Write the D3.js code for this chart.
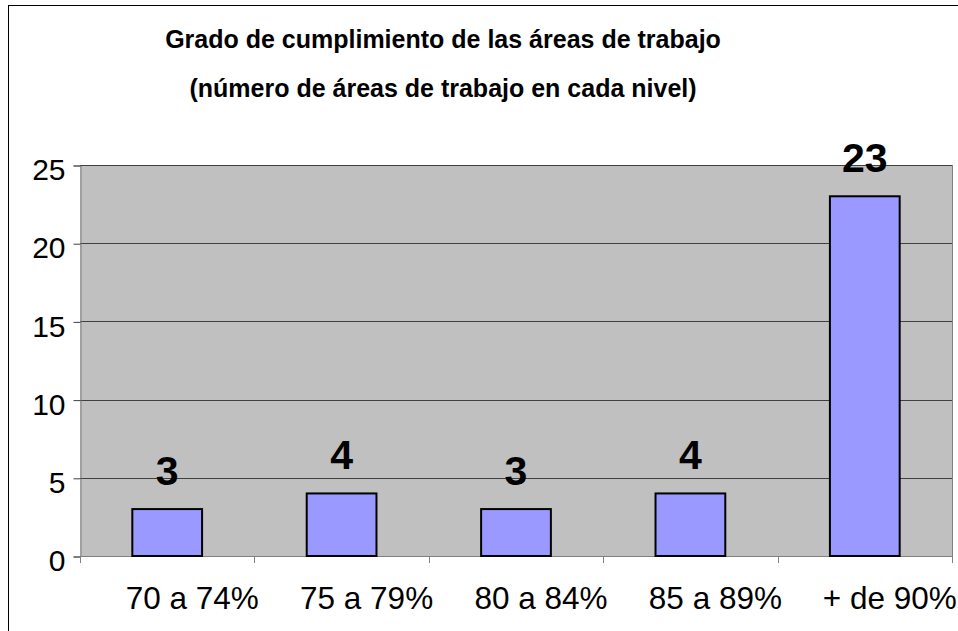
<!DOCTYPE html>
<html>
<head>
<meta charset="utf-8">
<script src="https://cdn.jsdelivr.net/npm/d3@7"></script>
<style>
  body { margin: 0; background: #fff; }
  text { font-family: Arial, "Liberation Sans", sans-serif; }
</style>
</head>
<body>
<svg id="chart" width="958" height="631"></svg>
<script>
// datos
var categorias = ["70 a 74%", "75 a 79%", "80 a 84%", "85 a 89%", "+ de 90%"];
var valores = [3, 4, 3, 4, 23];
var ticksY = [0, 5, 10, 15, 20, 25];
var titulo = ["Grado de cumplimiento de las áreas de trabajo",
              "(número de áreas de trabajo en cada nivel)"];

var svg = d3.select("#chart");

// borde exterior del area del grafico
svg.append("rect")
  .attr("x", 8.5).attr("y", 5.5)
  .attr("width", 1000).attr("height", 1000)
  .style("fill", "#fff")
  .style("stroke", "#000")
  .style("stroke-width", "1px");

var x = d3.scaleBand().domain(categorias).range([80, 952]).padding(0);
var y = d3.scaleLinear().domain([0, 25]).range([556, 165]);

// fondo gris
svg.append("rect")
  .attr("x", 80).attr("y", y(25))
  .attr("width", 952 - 80).attr("height", y(0) - y(25))
  .style("fill", "#c0c0c0");

// lineas de cuadricula
svg.selectAll("line.grid")
  .data(ticksY.filter(function(d){ return d > 0; }))
  .enter().append("line")
  .attr("class", "grid")
  .attr("x1", 80).attr("x2", 952)
  .attr("y1", function(d){ return Math.round(y(d)) + 0.5; })
  .attr("y2", function(d){ return Math.round(y(d)) + 0.5; })
  .style("stroke", "#404040");

// borde derecho del area de trazado
svg.append("line")
  .attr("x1", 952.5).attr("x2", 952.5)
  .attr("y1", y(25)).attr("y2", y(0))
  .style("stroke", "#808080");

// eje Y
var ejeY = svg.append("g")
  .attr("transform", "translate(80.5,0.5)")
  .call(d3.axisLeft(y).tickValues(ticksY).tickSize(7).tickPadding(8).tickFormat(d3.format("d")));
ejeY.select(".domain").style("stroke", "#808080");
ejeY.selectAll(".tick line").style("stroke", "#404040");
ejeY.selectAll(".tick text")
  .style("font-size", "30px")
  .style("fill", "#000")
  .attr("dy", "0.47em");

// eje X
var bordes = categorias.map(function(c){ return x(c); }).concat([952]);
svg.append("line")
  .attr("x1", 80).attr("x2", 952.5)
  .attr("y1", Math.round(y(0)) + 0.5).attr("y2", Math.round(y(0)) + 0.5)
  .style("stroke", "#808080");
svg.selectAll("line.tickx")
  .data(bordes)
  .enter().append("line")
  .attr("class", "tickx")
  .attr("x1", function(d){ return Math.round(d) + 0.5; })
  .attr("x2", function(d){ return Math.round(d) + 0.5; })
  .attr("y1", y(0)).attr("y2", y(0) + 7)
  .style("stroke", "#808080");

// las etiquetas del eje X quedan algo desplazadas a la derecha en el original
svg.selectAll("text.etqx")
  .data(categorias)
  .enter().append("text")
  .attr("class", "etqx")
  .attr("x", function(d){ return x(d) + x.bandwidth() / 2 + 25; })
  .attr("y", 609)
  .attr("text-anchor", "middle")
  .style("font-size", "31.5px")
  .text(function(d){ return d; });

// barras
var anchoBarra = x.bandwidth() * 0.4;
svg.selectAll("rect.barra")
  .data(valores)
  .enter().append("rect")
  .attr("class", "barra")
  .attr("x", function(d, i){ return x(categorias[i]) + (x.bandwidth() - anchoBarra) / 2; })
  .attr("y", function(d){ return y(d); })
  .attr("width", anchoBarra)
  .attr("height", function(d){ return y(0) - y(d); })
  .style("fill", "#9999ff")
  .style("stroke", "#000")
  .style("stroke-width", "2px");

// etiquetas de valor
svg.selectAll("text.valor")
  .data(valores)
  .enter().append("text")
  .attr("class", "valor")
  .attr("x", function(d, i){ return x(categorias[i]) + x.bandwidth() / 2; })
  .attr("y", function(d){ return y(d) - 24; })
  .attr("text-anchor", "middle")
  .style("font-size", "41px")
  .style("font-weight", "bold")
  .text(function(d){ return d; });

// titulo
svg.selectAll("text.titulo")
  .data(titulo)
  .enter().append("text")
  .attr("class", "titulo")
  .attr("x", 443)
  .attr("y", function(d, i){ return 48 + i * 49; })
  .attr("text-anchor", "middle")
  .style("font-size", "25px")
  .style("font-weight", "bold")
  .text(function(d){ return d; });
</script>
</body>
</html>
